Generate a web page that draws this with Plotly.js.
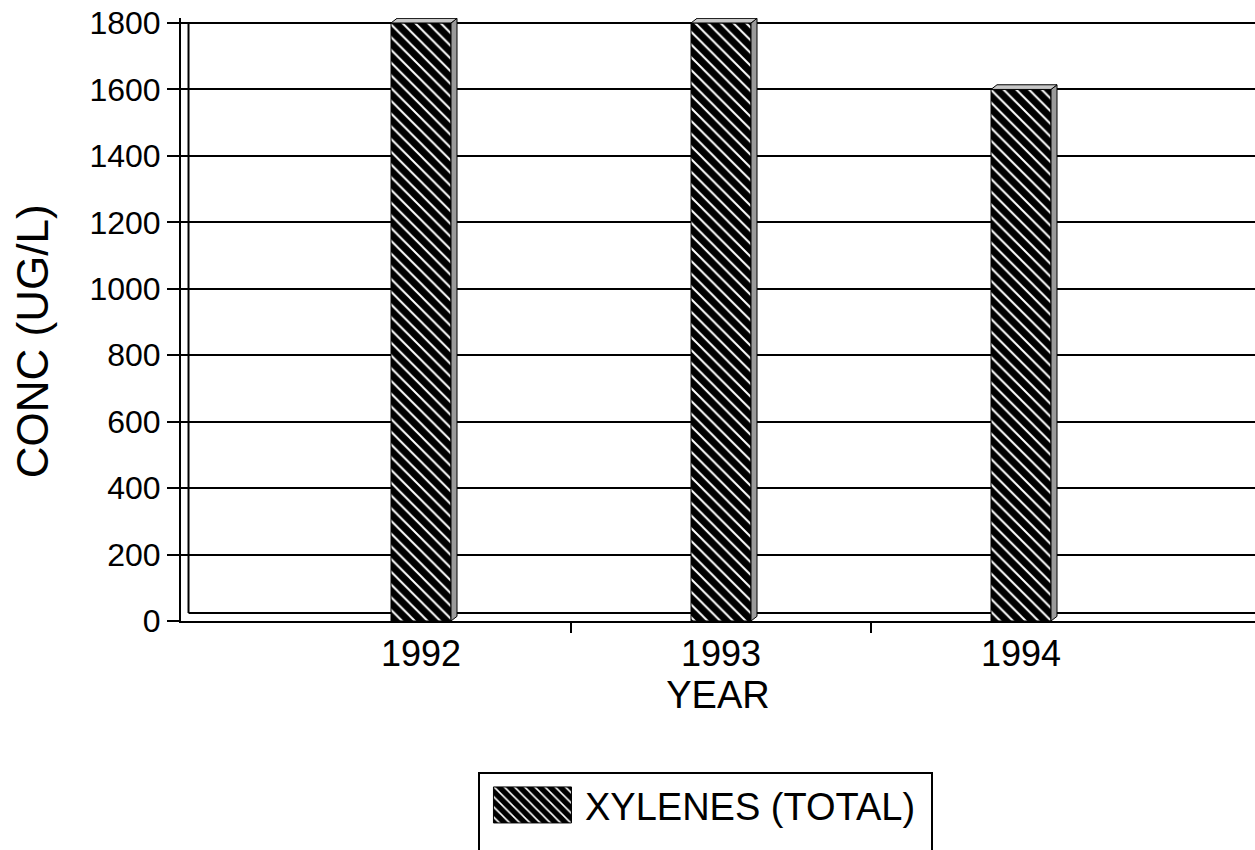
<!DOCTYPE html>
<html>
<head>
<meta charset="utf-8">
<script src="https://cdn.plot.ly/plotly-3.0.1.min.js"></script>
<style>
  html, body { margin: 0; padding: 0; background: #fff; }
  #chart { width: 1255px; height: 850px; }
</style>
</head>
<body>
<div id="chart"></div>
<script>
// ---- data ----
const categories = ['1992', '1993', '1994'];
const values = [1800, 1800, 1600];
const yTickValues = [0, 200, 400, 600, 800, 1000, 1200, 1400, 1600, 1800];
const seriesName = 'XYLENES (TOTAL)';
const xTitle = 'YEAR';
const yTitle = 'CONC (UG/L)';

// ---- styling ----
const FONT = 'Arial, "Liberation Sans", sans-serif';
const barWidth = 0.2;
const depthX = 0.02;   // category units
const depthY = 14;     // value units
const floorY = 24;     // value units (back edge of floor)
const yMax = yTickValues[yTickValues.length - 1];

const shapes = [];
// 3D side and top faces, derived from the data
values.forEach((v, i) => {
  const xr = i + barWidth / 2, xl = i - barWidth / 2;
  shapes.push({
    type: 'path', xref: 'x', yref: 'y', layer: 'above',
    path: `M ${xr} 0 L ${xr + depthX} ${depthY} L ${xr + depthX} ${v + depthY} L ${xr} ${v} Z`,
    fillcolor: '#9a9a9a', line: { color: 'black', width: 1 }
  });
  shapes.push({
    type: 'path', xref: 'x', yref: 'y', layer: 'above',
    path: `M ${xl} ${v} L ${xl + depthX} ${v + depthY} L ${xr + depthX} ${v + depthY} L ${xr} ${v} Z`,
    fillcolor: '#c8c8c8', line: { color: 'black', width: 1 }
  });
});
// category boundary tick marks (between categories)
for (let i = 0; i < categories.length - 1; i++) {
  shapes.push({
    type: 'line', xref: 'x', yref: 'paper', x0: i + 0.5, x1: i + 0.5, y0: 0, y1: -0.02,
    line: { color: 'black', width: 2 }
  });
}
// back wall & floor lines
shapes.push({ type: 'line', xref: 'paper', yref: 'y', x0: 0.007, x1: 0.007, y0: floorY, y1: yMax,
  line: { color: 'black', width: 2 }, layer: 'below' });
shapes.push({ type: 'line', xref: 'paper', yref: 'y', x0: 0.007, x1: 1, y0: floorY, y1: floorY,
  line: { color: 'black', width: 2 }, layer: 'below' });

const trace = {
  type: 'bar',
  name: seriesName,
  x: categories,
  y: values,
  width: barWidth,
  marker: {
    color: 'black',
    line: { color: 'black', width: 1 },
    pattern: { shape: '\\', fgcolor: 'white', bgcolor: 'black', size: 9, solidity: 0.22, fillmode: 'replace' }
  },
  showlegend: true,
  hoverinfo: 'x+y'
};

const layout = {
  width: 1255, height: 850,
  margin: { l: 181, r: 0, t: 18, b: 229 },
  paper_bgcolor: 'white', plot_bgcolor: 'white',
  font: { family: FONT, color: 'black' },
  showlegend: true,
  xaxis: {
    type: 'category',
    range: [-0.8, 2.78],
    ticks: '',
    tickfont: { size: 36, family: FONT, color: 'black' },
    showline: true, linecolor: 'black', linewidth: 2,
    showgrid: false, zeroline: false,
    title: { text: xTitle, font: { size: 38, family: FONT, color: 'black' }, standoff: 0 },
    automargin: false
  },
  yaxis: {
    range: [0, 1815],
    tickvals: yTickValues,
    ticktext: yTickValues.map(String),
    ticks: 'outside', ticklen: 12, tickwidth: 2, tickcolor: 'black',
    tickfont: { size: 32, family: FONT, color: 'black' },
    showline: true, linecolor: 'black', linewidth: 2,
    showgrid: true, gridcolor: 'black', gridwidth: 2,
    zeroline: false,
    automargin: false
  },
  annotations: [{
    text: yTitle, textangle: -90,
    xref: 'paper', yref: 'paper', x: 0, y: 0.464,
    xanchor: 'center', yanchor: 'middle', xshift: -149,
    showarrow: false,
    font: { size: 44, family: FONT, color: 'black' }
  }],
  legend: {
    x: 0.2765, xanchor: 'left',
    y: -0.25, yanchor: 'top',
    orientation: 'v',
    bordercolor: 'black', borderwidth: 2,
    bgcolor: 'white',
    font: { size: 38, family: FONT, color: 'black' },
    itemwidth: 95
  },
  shapes: shapes
};

Plotly.newPlot('chart', [trace], layout, { displayModeBar: false, staticPlot: true }).then(gd => {
  // enlarge legend swatch to match the reference's wide patterned box
  gd.querySelectorAll('.legend .legendpoints path').forEach(p => {
    p.setAttribute('d', 'M39,18H-39V-18H39Z');
    p.style.strokeWidth = '1px';
  });
  const bg = gd.querySelector('.legend .bg');
  if (bg) {
    const h = parseFloat(bg.getAttribute('height'));
    const w = parseFloat(bg.getAttribute('width'));
    bg.setAttribute('height', h + 40);
    bg.setAttribute('width', w + 10);
  }
});
</script>
</body>
</html>
